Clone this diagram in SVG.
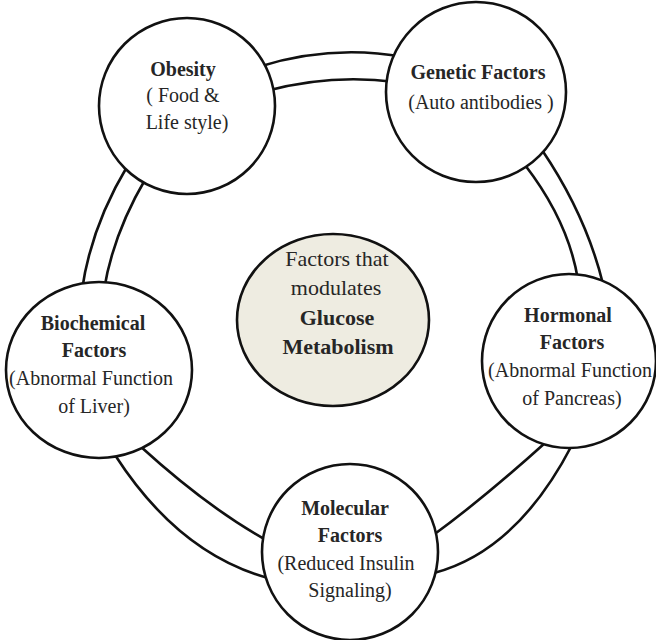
<svg xmlns="http://www.w3.org/2000/svg" width="656" height="640" viewBox="0 0 656 640">
<style>
.ring{fill:none;stroke:#111;stroke-width:2.6}
.node{fill:#fff;stroke:#111;stroke-width:2.6}
.hub{fill:#eeece1;stroke:#111;stroke-width:2.6}
text{font-size:20px;fill:#262626;text-anchor:middle}
.b{font-weight:bold}
.c{font-size:22px}
</style>
<rect width="656" height="640" fill="#fff"/>
<g id="connectors">
<path class="ring" d="M258,67 Q331,44 404,57"/>
<path class="ring" d="M266,91 Q331,73.5 396,82"/>
<path class="ring" d="M128,165 Q91,226.5 82,290"/>
<path class="ring" d="M146,178 Q113,234 104,290"/>
<path class="ring" d="M115,455 Q178.5,553.5 268,578"/>
<path class="ring" d="M140,446 Q207,507 266,540"/>
<path class="ring" d="M432,536 Q483.5,498.5 545,443"/>
<path class="ring" d="M434,573 Q517,551 572,445"/>
<path class="ring" d="M542,150 Q586,215 603,284"/>
<path class="ring" d="M525,165 Q568.5,221.5 578,280"/>
</g>
<g font-family="'Liberation Serif', 'DejaVu Serif', serif">
<g id="hub">
<ellipse class="hub" cx="333" cy="320" rx="96" ry="86"/>
<text class="c" x="337" y="266">Factors that</text>
<text class="c" x="336" y="295">modulates</text>
<text class="c b" x="337" y="325">Glucose</text>
<text class="c b" x="338" y="354">Metabolism</text>
</g>
<g id="obesity">
<circle class="node" cx="187" cy="106" r="88"/>
<text class="b" x="183" y="76">Obesity</text>
<text x="183" y="102">( Food &amp;</text>
<text x="187" y="129">Life style)</text>
</g>
<g id="genetic">
<circle class="node" cx="476" cy="92" r="90"/>
<text class="b" x="478" y="79">Genetic Factors</text>
<text x="481" y="109">(Auto antibodies )</text>
</g>
<g id="biochemical">
<ellipse class="node" cx="99" cy="370" rx="93" ry="88"/>
<text class="b" x="93" y="330">Biochemical</text>
<text class="b" x="94" y="357">Factors</text>
<text x="91" y="385">(Abnormal  Function</text>
<text x="94" y="413">of Liver)</text>
</g>
<g id="hormonal">
<circle class="node" cx="569" cy="361" r="87"/>
<text class="b" x="568" y="322">Hormonal</text>
<text class="b" x="572" y="349">Factors</text>
<text x="570" y="377">(Abnormal  Function</text>
<text x="572" y="405">of Pancreas)</text>
</g>
<g id="molecular">
<circle class="node" cx="350" cy="552" r="88"/>
<text class="b" x="345" y="515">Molecular</text>
<text class="b" x="350" y="542">Factors</text>
<text x="346" y="570">(Reduced Insulin</text>
<text x="350" y="597">Signaling)</text>
</g>
</g>
</svg>
